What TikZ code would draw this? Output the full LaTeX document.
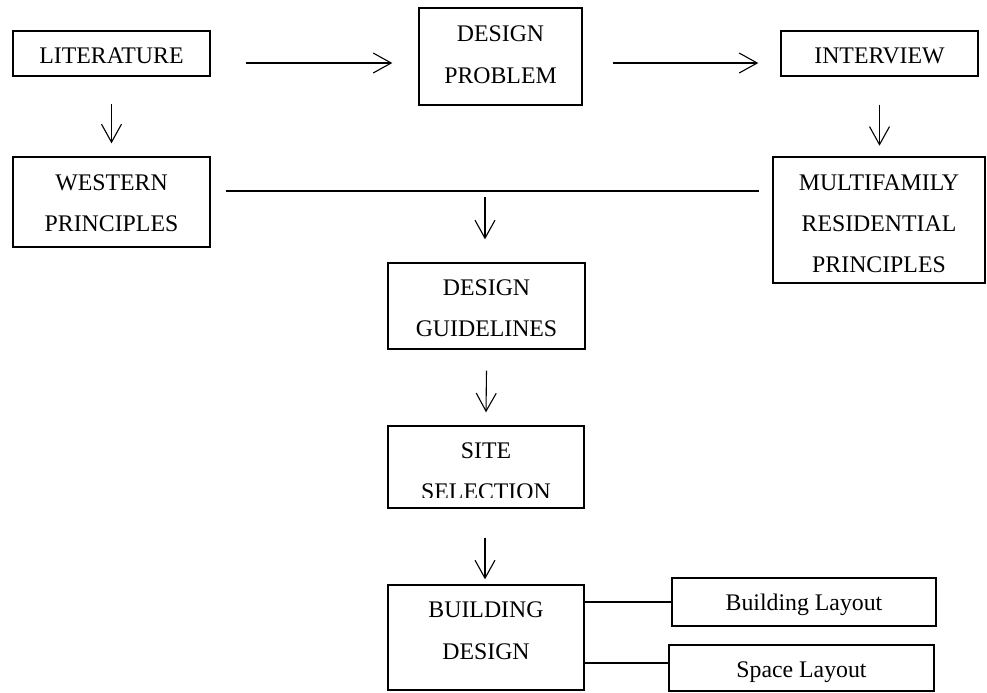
\documentclass[tikz,border=0pt]{standalone}
\usepackage{fontspec}
\setmainfont{Liberation Serif}
\usetikzlibrary{arrows.meta,calc}
\begin{document}
\begin{tikzpicture}[x=0.5pt,y=-0.5pt,
  box/.style={draw,line width=0.7pt,inner sep=0pt,rectangle},
  lbl/.style={anchor=base,inner sep=0pt,font=\fontsize{11.9}{14}\selectfont},
  conn/.style={line width=0.55pt},
  bar/.style={line width=0.8pt},
  arr/.style={line width=0.55pt,-{Straight Barb[length=9pt,width=10pt]}}]
\useasboundingbox (0,0) rectangle (987,692);

% boxes
\node[box,minimum width=98.5pt,minimum height=22.5pt] (lit) at (111.5,53.5) {};
\node[box,minimum width=81.5pt,minimum height=48.5pt] (dp) at (500.5,56.5) {};
\node[box,minimum width=98.5pt,minimum height=22.5pt] (int) at (879.5,53.5) {};
\node[box,minimum width=98.5pt,minimum height=45pt] (west) at (111.5,202) {};
\node[box,minimum width=106pt,minimum height=63pt] (mf) at (879,220) {};
\node[box,minimum width=98.5pt,minimum height=43pt] (dg) at (486.5,306) {};
\node[box,minimum width=98pt,minimum height=41pt] (site) at (486,467) {};
\node[box,minimum width=98pt,minimum height=52.5pt] (bd) at (486,637.5) {};
\node[box,minimum width=132pt,minimum height=24pt] (bl) at (804,602) {};
\node[box,minimum width=132.5pt,minimum height=23pt] (sl) at (801.5,668) {};

% texts
\node[lbl] (litA) at (111.5,63) {LITERATURE};
\node[lbl] (dpA) at (500.5,41) {DESIGN};
\node[lbl] (dpB) at (500.5,83) {PROBLEM};
\node[lbl] (intA) at (879.5,63) {INTERVIEW};
\node[lbl] (westA) at (111.5,190) {WESTERN};
\node[lbl] (westB) at (111.5,231) {PRINCIPLES};
\node[lbl] (mfA) at (879,190) {MULTIFAMILY};
\node[lbl] (mfB) at (879,231) {RESIDENTIAL};
\node[lbl] (mfC) at (879,272) {PRINCIPLES};
\node[lbl] (dgA) at (486.5,295) {DESIGN};
\node[lbl] (dgB) at (486.5,336) {GUIDELINES};
\node[lbl] (siteA) at (486,458) {SITE};
\begin{scope}
  \clip (388,426) rectangle (584,497);
  \node[lbl] (siteB) at (486,499) {SELECTION};
\end{scope}
\node[lbl] (bdA) at (486,617) {BUILDING};
\node[lbl] (bdB) at (486,659) {DESIGN};
\node[lbl] (blA) at (804,610.5) {Building Layout};
\node[lbl] (slA) at (801.5,677.5) {Space Layout};

% connectors
\draw[arr] ($(lit.east)+(35,9.5)$) -- ($(dp.west)+(-26,6.5)$);
\draw[arr] ($(dp.east)+(30,6.5)$) -- ($(int.west)+(-22,9.5)$);
\draw[arr] ($(lit.south)+(0,27)$) -- ($(west.north)+(0,-13)$);
\draw[arr] ($(int.south)+(0,28)$) -- ($(int.south)+(0,69)$);
\draw[bar] ($(west.east)+(15,-11)$) -- ($(mf.west)+(-13,-29)$);
\draw[arr] ($(dg.north)+(-1.5,-65)$) -- ($(dg.north)+(-1.5,-23)$);
\draw[arr] ($(dg.south)+(0,21)$) -- ($(site.north)+(0,-13)$);
\draw[arr] ($(site.south)+(-1,29)$) -- ($(bd.north)+(-1,-5)$);
\draw[conn] (bl.west -| bd.east) -- (bl.west);
\draw[conn] ($(sl.west -| bd.east)+(0,-5)$) -- ($(sl.west)+(0,-5)$);
\end{tikzpicture}
\end{document}
